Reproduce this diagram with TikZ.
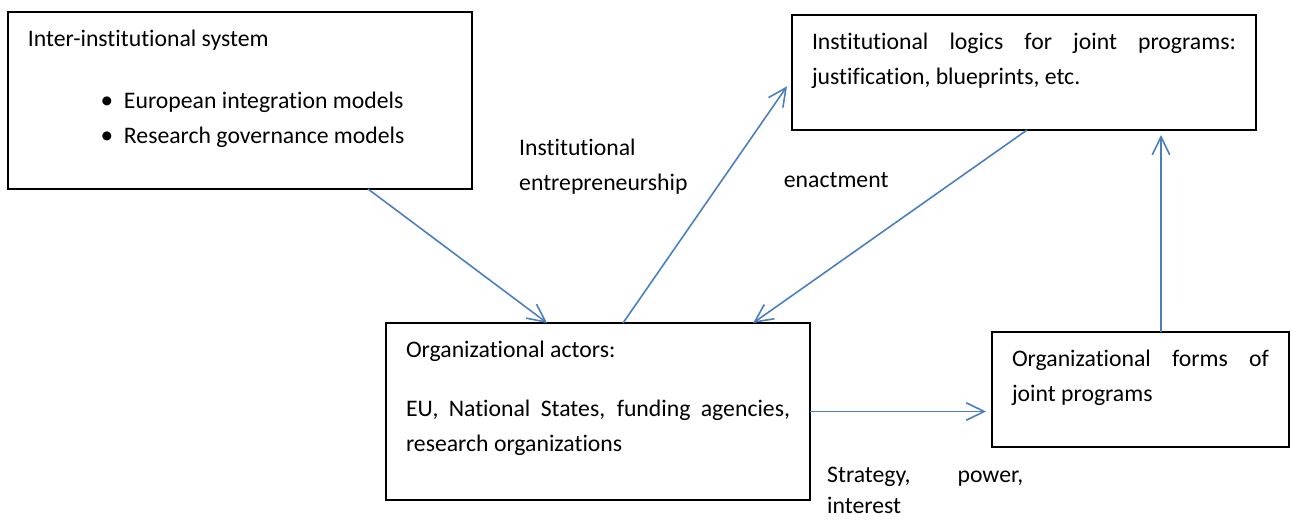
\documentclass[tikz,border=0pt]{standalone}
\usepackage{fontspec}
\setmainfont{Carlito}[Ligatures=CommonOff]
\usetikzlibrary{calc, arrows.meta, positioning}
\definecolor{linkblue}{RGB}{74,126,190}
\hyphenpenalty=10000
\tolerance=9999
\newcommand{\boxtext}[3]{\begin{minipage}[t][#1][t]{#2}#3\end{minipage}}

\begin{document}
\begin{tikzpicture}[>={Straight Barb[length=3.6mm, width=3.5mm]}, font=\fontsize{13.5}{19.8}\selectfont, box/.style={draw, line width=1pt, outer sep=0pt, inner xsep=0.4cm, inner ysep=0.36cm}, link/.style={draw=linkblue, line width=0.9pt}, lbl/.style={inner sep=0pt}]
\useasboundingbox (0,0) rectangle (25.82,-10.38);
\node[box, anchor=north west] (sys) at (0.16,-0.24) {\boxtext{2.82cm}{8.48cm}{Inter-institutional system\par\vspace{0.54cm}
\hspace*{1.38cm}\makebox[0.4cm]{\Large\textbullet}\hspace{0.14cm}European integration models\par
\hspace*{1.38cm}\makebox[0.4cm]{\Large\textbullet}\hspace{0.14cm}Research governance models}};
\node[box, right=6.4cm of sys.north east, anchor=north west, yshift=-0.06cm] (logic) {\boxtext{1.58cm}{8.48cm}{Institutional logics for joint programs: justification, blueprints, etc.}};
\node[box, below right=2.68cm and 7.56cm of sys.south west] (actors) {\boxtext{2.82cm}{7.68cm}{Organizational actors:\par\vspace{0.48cm}EU, National States, funding agencies, research organizations}};
\node[box, right=3.64cm of actors.north east, anchor=north west, yshift=-0.18cm] (forms) {\boxtext{1.58cm}{5.14cm}{Organizational forms of joint programs}};
\draw[->, link] ($(sys.south west)!0.776!(sys.south east)$) -- ($(actors.north west)!0.38!(actors.north east)$);
\draw[->, link] ($(actors.north west)!0.559!(actors.north east)$) -- node[lbl, pos=0.66, anchor=east, xshift=-0.86cm, align=left] (entre) {Institutional\\entrepreneurship} ($(logic.north west)!0.62!(logic.south west)+(-0.1,0)$);
\draw[->, link] ($(logic.south)+(0.06,0)$) -- node[lbl, pos=0.262, anchor=east, xshift=-1.32cm] (enact) {enactment} ($(actors.north west)!0.866!(actors.north east)$);
\draw[->, link, shorten >=0.12cm] (actors.east) -- node[lbl, pos=0.09, anchor=north west, yshift=-1.1cm, text width=3.92cm, align=justify, font=\fontsize{13.5}{17.6}\selectfont] (strat) {Strategy, power, interest} (actors.east -| forms.west);
\draw[->, link, shorten >=0.1cm] ($(forms.north west)!0.569!(forms.north east)$) coordinate (up) -- (up |- logic.south);
\end{tikzpicture}
\end{document}
